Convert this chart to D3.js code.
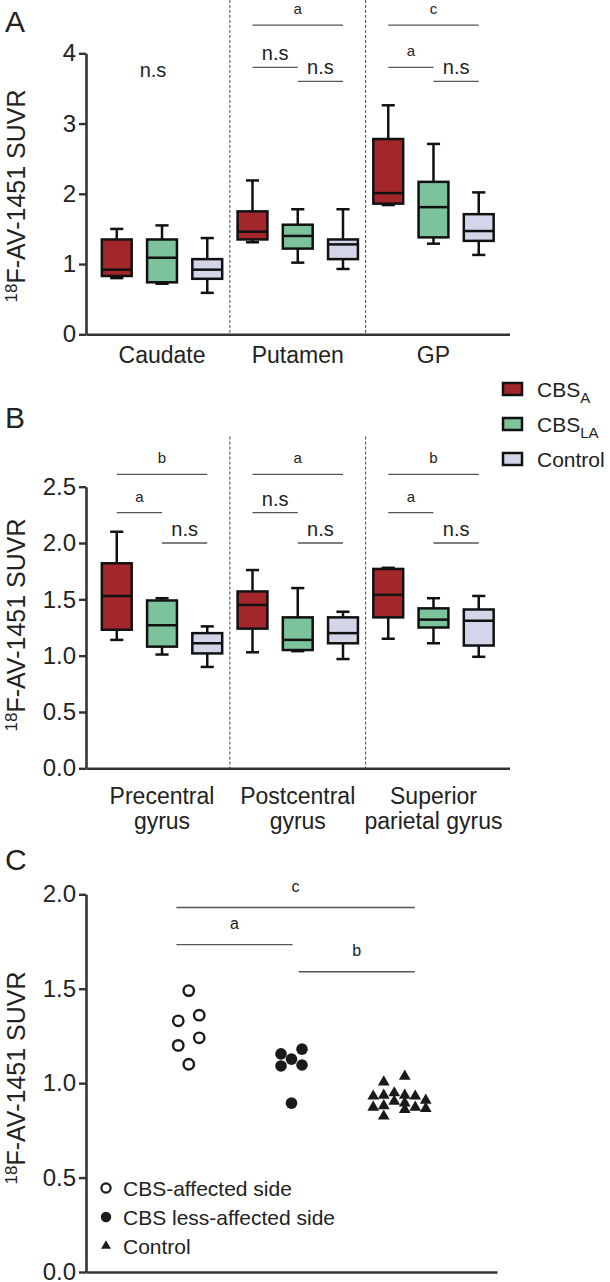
<!DOCTYPE html>
<html><head><meta charset="utf-8">
<script src="https://cdn.jsdelivr.net/npm/d3@7"></script>
<style>
body{margin:0;background:#fff}
svg{display:block}
text{font-family:"Liberation Sans",Arial,Helvetica,sans-serif;fill:#222}
</style>
</head><body>
<svg id="chart" width="610" height="1282"></svg>
<script>
// ---------------- DATA ----------------
const groups = ["CBS_A", "CBS_LA", "Control"];

// Panel A
const regionsA = ["Caudate", "Putamen", "GP"];
const ticksA = [0, 1, 2, 3, 4];
// [min, q1, median, q3, max] per region
const boxA_CBSA    = [[0.80, 0.83, 0.92, 1.35, 1.50], [1.31, 1.35, 1.46, 1.75, 2.19], [1.84, 1.86, 2.01, 2.78, 3.26]];
const boxA_CBSLA   = [[0.72, 0.74, 1.09, 1.35, 1.55], [1.02, 1.22, 1.40, 1.56, 1.78], [1.29, 1.38, 1.81, 2.17, 2.71]];
const boxA_Control = [[0.59, 0.79, 0.92, 1.07, 1.37], [0.93, 1.07, 1.28, 1.35, 1.78], [1.13, 1.33, 1.47, 1.71, 2.02]];
// [region, fromGroup, toGroup, label, level]
const sigA = [
  [1, 0, 2, "a", 4.4], [1, 0, 1, "n.s", 3.8], [1, 1, 2, "n.s", 3.6],
  [2, 0, 2, "c", 4.4], [2, 0, 1, "a", 3.8], [2, 1, 2, "n.s", 3.6]
];
const nsOnlyA = [[0, "n.s", 3.66]];

// Panel B
const regionsB = [["Precentral", "gyrus"], ["Postcentral", "gyrus"], ["Superior", "parietal gyrus"]];
const ticksB = [0, 0.5, 1.0, 1.5, 2.0, 2.5];
const boxB_CBSA    = [[1.14, 1.23, 1.53, 1.82, 2.10], [1.03, 1.24, 1.45, 1.57, 1.76], [1.15, 1.34, 1.54, 1.77, 1.78]];
const boxB_CBSLA   = [[1.01, 1.08, 1.27, 1.49, 1.51], [1.04, 1.05, 1.14, 1.34, 1.60], [1.11, 1.25, 1.32, 1.42, 1.51]];
const boxB_Control = [[0.90, 1.02, 1.11, 1.20, 1.26], [0.97, 1.11, 1.20, 1.34, 1.39], [0.99, 1.09, 1.31, 1.41, 1.53]];
const sigB = [
  [0, 0, 2, "b", 2.61], [0, 0, 1, "a", 2.27], [0, 1, 2, "n.s", 2.0],
  [1, 0, 2, "a", 2.61], [1, 0, 1, "n.s", 2.27], [1, 1, 2, "n.s", 2.0],
  [2, 0, 2, "b", 2.61], [2, 0, 1, "a", 2.27], [2, 1, 2, "n.s", 2.0]
];
const legendB = [["CBS", "A"], ["CBS", "LA"], ["Control", ""]];

// Panel C
const groupsC = ["affected", "lessAffected", "control"];
const ticksC = [0, 0.5, 1.0, 1.5, 2.0];
const affected = [1.49, 1.36, 1.33, 1.24, 1.20, 1.10];
const lessAffected = [1.18, 1.155, 1.127, 1.096, 1.091, 0.894];
const controlC = [1.036, 1.006, 0.948, 0.936, 0.936, 0.931, 0.931, 0.909, 0.904, 0.895, 0.88, 0.872, 0.872, 0.865, 0.86, 0.825];
// [fromIndex, toIndex, label, level] (indices in group units)
const sigC = [[-0.12, 2.2, "c", 1.93], [-0.12, 1.01, "a", 1.733], [1.07, 2.2, "b", 1.59]];
const legendC = ["CBS-affected side", "CBS less-affected side", "Control"];

// ---------------- STYLE ----------------
const fills = ["#a3262b", "#7cc29a", "#d3d6e8"];
const axisColor = "#333";
const sigColor = "#555";
const svg = d3.select("#chart");
const AX_L = 86, AX_R = 509.5;

function yTitle(cx, cy) {
  const t = svg.append("text")
    .attr("transform", `translate(${cx},${cy}) rotate(-90)`)
    .attr("text-anchor", "middle")
    .style("font-size", "25px");
  t.append("tspan").text("18").style("font-size", "17px").attr("dy", "-8");
  t.append("tspan").text("F-AV-1451 SUVR").attr("dy", "8");
}

function styleAxis(g) {
  g.select(".domain").attr("stroke", axisColor).attr("stroke-width", 2.6);
  g.selectAll(".tick line").attr("stroke", axisColor).attr("stroke-width", 2.4);
  g.selectAll(".tick text").style("font-size", "24px").attr("fill", "#222")
    .style("font-family", '"Liberation Sans",Arial,sans-serif');
}

function boxPanel(cfg) {
  const y = d3.scaleLinear().domain(cfg.yDomain).range(cfg.yRange);
  const x = d3.scaleBand().domain(d3.range(9)).range([AX_L, AX_R]).paddingInner(0.34).paddingOuter(0.35);
  const bw = x.bandwidth();
  const cx = (r, gi) => x(r * 3 + gi) + bw / 2;
  const g = svg.append("g");

  // dividers
  [1, 2].forEach(k => {
    const xd = (x(k * 3 - 1) + bw + x(k * 3)) / 2;
    g.append("line").attr("x1", xd).attr("x2", xd)
      .attr("y1", y(cfg.dividerTop)).attr("y2", y(0))
      .attr("stroke", "#444").attr("stroke-width", 1).attr("stroke-dasharray", "3,2");
  });

  // axes
  const ya = g.append("g").attr("transform", `translate(${AX_L},0)`)
    .call(d3.axisLeft(y).tickValues(cfg.ticks).tickFormat(cfg.fmt).tickSize(7).tickPadding(3).tickSizeOuter(0));
  styleAxis(ya);
  const xa = g.append("g").attr("transform", `translate(0,${y(0)})`)
    .call(d3.axisBottom(x).tickValues([]).tickSizeOuter(0));
  styleAxis(xa);

  // boxes
  cfg.boxes.forEach((arr, gi) => {
    arr.forEach((s, r) => {
      const c = cx(r, gi);
      const [mn, q1, md, q3, mx] = s;
      const bg = g.append("g").attr("stroke", "#111").attr("stroke-width", 2.5);
      const cap = bw * 0.22;
      bg.append("line").attr("x1", c).attr("x2", c).attr("y1", y(mx)).attr("y2", y(q3));
      bg.append("line").attr("x1", c).attr("x2", c).attr("y1", y(q1)).attr("y2", y(mn));
      bg.append("line").attr("x1", c - cap).attr("x2", c + cap).attr("y1", y(mx)).attr("y2", y(mx));
      bg.append("line").attr("x1", c - cap).attr("x2", c + cap).attr("y1", y(mn)).attr("y2", y(mn));
      bg.append("rect").attr("x", x(r * 3 + gi)).attr("width", bw)
        .attr("y", y(q3)).attr("height", y(q1) - y(q3)).attr("fill", fills[gi]);
      bg.append("line").attr("x1", x(r * 3 + gi)).attr("x2", x(r * 3 + gi) + bw).attr("y1", y(md)).attr("y2", y(md));
    });
  });

  // significance
  cfg.sig.forEach(([r, a, b, lab, lev]) => {
    const x1 = cx(r, a), x2 = cx(r, b), yy = y(lev);
    g.append("line").attr("x1", x1).attr("x2", x2).attr("y1", yy).attr("y2", yy)
      .attr("stroke", sigColor).attr("stroke-width", 1.3);
    const ns = lab === "n.s";
    g.append("text").attr("x", (x1 + x2) / 2).attr("y", yy - (ns ? 7 : 11))
      .attr("text-anchor", "middle").style("font-size", ns ? "20px" : "15px").text(lab);
  });
  (cfg.nsOnly || []).forEach(([r, lab, lev]) => {
    g.append("text").attr("x", cx(r, 1) - 9).attr("y", y(lev)).attr("text-anchor", "middle")
      .style("font-size", "20px").text(lab);
  });

  // category labels
  cfg.regions.forEach((lab, r) => {
    const lines = Array.isArray(lab) ? lab : [lab];
    lines.forEach((ln, i) => {
      g.append("text").attr("x", cx(r, 1)).attr("y", cfg.labelY + i * 25)
        .attr("text-anchor", "middle").style("font-size", "23px").text(ln);
    });
  });
  return { x, y };
}

// ---------- Panel A ----------
svg.append("text").attr("x", 5).attr("y", 32).style("font-size", "30px").text("A");
boxPanel({
  yDomain: [0, 4], yRange: [334.3, 53.3], ticks: ticksA, fmt: d3.format("d"),
  boxes: [boxA_CBSA, boxA_CBSLA, boxA_Control], sig: sigA, nsOnly: nsOnlyA,
  regions: regionsA, labelY: 363, dividerTop: 4.76
});
yTitle(25, 196);

// ---------- Panel B ----------
svg.append("text").attr("x", 5).attr("y", 428).style("font-size", "30px").text("B");
boxPanel({
  yDomain: [0, 2.5], yRange: [768.3, 486.7], ticks: ticksB, fmt: d3.format(".1f"),
  boxes: [boxB_CBSA, boxB_CBSLA, boxB_Control], sig: sigB,
  regions: regionsB, labelY: 804, dividerTop: 2.945
});
yTitle(25, 625);

// legend B
legendB.forEach(([main, sub], i) => {
  const yy = 389 + i * 35;
  svg.append("rect").attr("x", 503).attr("y", yy - 6).attr("width", 19).attr("height", 12)
    .attr("fill", fills[i]).attr("stroke", "#111").attr("stroke-width", 2.5);
  const t = svg.append("text").attr("x", 537).attr("y", yy + 7.5).style("font-size", "21px");
  t.append("tspan").text(main);
  if (sub) t.append("tspan").text(sub).style("font-size", "15px").attr("dy", 6);
});

// ---------- Panel C ----------
svg.append("text").attr("x", 5).attr("y", 870).style("font-size", "30px").text("C");
{
  const y = d3.scaleLinear().domain([0, 2]).range([1272, 894.3]);
  const x = d3.scalePoint().domain(groupsC).range([AX_L, 497]).padding(1);
  const step = x.step();
  const g = svg.append("g");
  const ya = g.append("g").attr("transform", `translate(${AX_L},0)`)
    .call(d3.axisLeft(y).tickValues(ticksC).tickFormat(d3.format(".1f")).tickSize(7).tickPadding(3).tickSizeOuter(0));
  styleAxis(ya);
  const xa = g.append("g").attr("transform", `translate(0,${y(0)})`)
    .call(d3.axisBottom(x).tickValues([]).tickSizeOuter(0));
  styleAxis(xa);

  // significance
  sigC.forEach(([a, b, lab, lev]) => {
    const x1 = x(groupsC[0]) + a * step, x2 = x(groupsC[0]) + b * step, yy = y(lev);
    g.append("line").attr("x1", x1).attr("x2", x2).attr("y1", yy).attr("y2", yy)
      .attr("stroke", sigColor).attr("stroke-width", 1.3);
    g.append("text").attr("x", (x1 + x2) / 2).attr("y", yy - 16).attr("text-anchor", "middle")
      .style("font-size", "16px").text(lab);
  });

  // scatter layout: bin points by y and spread within bins
  function layout(vals, binPx, dx) {
    const pts = vals.map(v => ({ v, py: y(v) })).sort((a, b) => a.py - b.py);
    const bins = [];
    pts.forEach(p => {
      const last = bins[bins.length - 1];
      if (last && p.py - last[0].py <= binPx) last.push(p); else bins.push([p]);
    });
    bins.forEach(bin => {
      const n = bin.length;
      const seq = n === 2 ? [1, -1] : [0];
      for (let k = 1; seq.length < n; k++) { seq.push(k); if (seq.length < n) seq.push(-k); }
      bin.forEach((p, i) => p.off = seq[i] * dx);
    });
    return pts;
  }
  const dx = 10.5;
  layout(affected, 8, dx).forEach(p => {
    g.append("circle").attr("cx", x("affected") + p.off).attr("cy", p.py).attr("r", 5.2)
      .attr("fill", "#fff").attr("stroke", "#1a1a1a").attr("stroke-width", 2.4);
  });
  layout(lessAffected, 8, dx).forEach(p => {
    g.append("circle").attr("cx", x("lessAffected") + p.off).attr("cy", p.py).attr("r", 5.8)
      .attr("fill", "#1a1a1a");
  });
  const tri = d3.symbol(d3.symbolTriangle, 60)();
  layout(controlC, 8, dx).forEach(p => {
    g.append("path").attr("d", tri).attr("transform", `translate(${x("control") + p.off},${p.py})`)
      .attr("fill", "#1a1a1a");
  });

  // legend C
  legendC.forEach((lab, i) => {
    const yy = 1188 + i * 29;
    if (i === 0) g.append("circle").attr("cx", 106).attr("cy", yy).attr("r", 4.6)
      .attr("fill", "#fff").attr("stroke", "#1a1a1a").attr("stroke-width", 2.2);
    if (i === 1) g.append("circle").attr("cx", 106).attr("cy", yy).attr("r", 5.2).attr("fill", "#1a1a1a");
    if (i === 2) g.append("path").attr("d", d3.symbol(d3.symbolTriangle, 42)())
      .attr("transform", `translate(106,${yy})`).attr("fill", "#1a1a1a");
    g.append("text").attr("x", 123).attr("y", yy + 7.5).style("font-size", "21px").text(lab);
  });
}
yTitle(25, 1078);
</script>
</body></html>
